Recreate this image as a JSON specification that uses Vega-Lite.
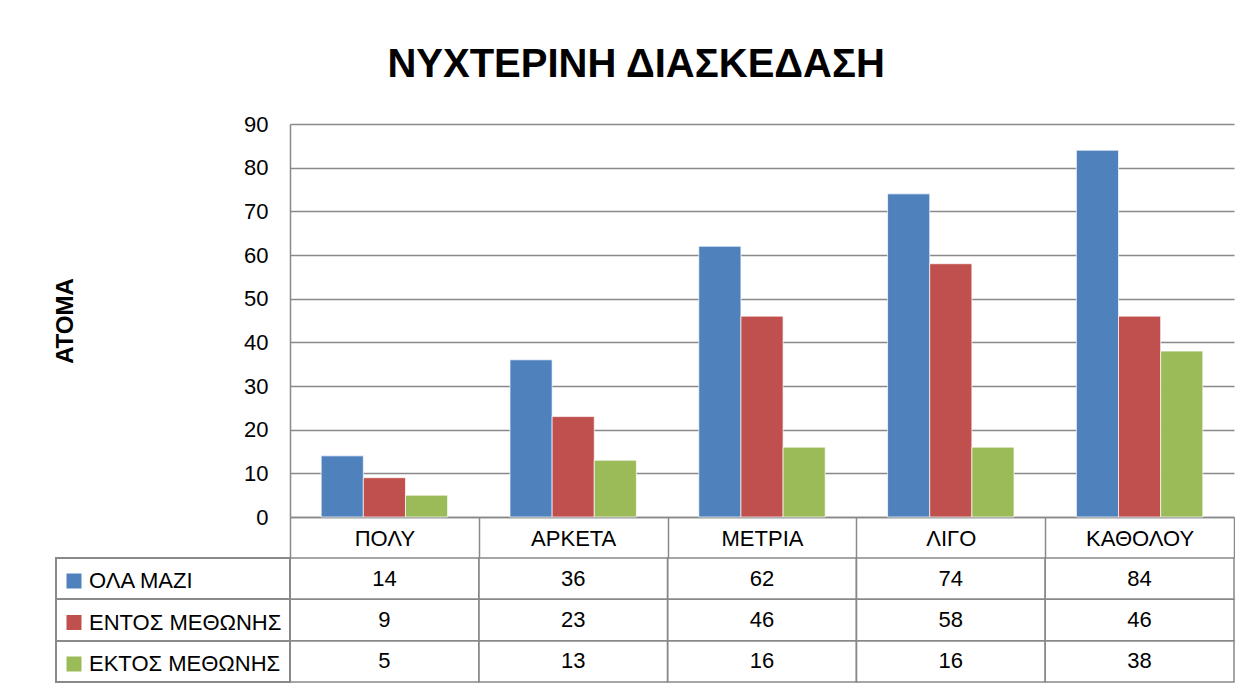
{
  "$schema": "https://vega.github.io/schema/vega-lite/v6.json",
  "padding": {"left": 53, "top": 44, "right": 0, "bottom": 0},
  "title": {"text": "ΝΥΧΤΕΡΙΝΗ ΔΙΑΣΚΕΔΑΣΗ", "fontSize": 40, "font": "Liberation Sans", "fontWeight": "bold", "color": "black", "anchor": "middle", "offset": 28.5, "dx": -8},
  "datasets": {
    "d": [
      {"cat": "ΠΟΛΥ", "series": "ΟΛΑ ΜΑΖΙ", "value": 14},
      {"cat": "ΠΟΛΥ", "series": "ΕΝΤΟΣ ΜΕΘΩΝΗΣ", "value": 9},
      {"cat": "ΠΟΛΥ", "series": "ΕΚΤΟΣ ΜΕΘΩΝΗΣ", "value": 5},
      {"cat": "ΑΡΚΕΤΑ", "series": "ΟΛΑ ΜΑΖΙ", "value": 36},
      {"cat": "ΑΡΚΕΤΑ", "series": "ΕΝΤΟΣ ΜΕΘΩΝΗΣ", "value": 23},
      {"cat": "ΑΡΚΕΤΑ", "series": "ΕΚΤΟΣ ΜΕΘΩΝΗΣ", "value": 13},
      {"cat": "ΜΕΤΡΙΑ", "series": "ΟΛΑ ΜΑΖΙ", "value": 62},
      {"cat": "ΜΕΤΡΙΑ", "series": "ΕΝΤΟΣ ΜΕΘΩΝΗΣ", "value": 46},
      {"cat": "ΜΕΤΡΙΑ", "series": "ΕΚΤΟΣ ΜΕΘΩΝΗΣ", "value": 16},
      {"cat": "ΛΙΓΟ", "series": "ΟΛΑ ΜΑΖΙ", "value": 74},
      {"cat": "ΛΙΓΟ", "series": "ΕΝΤΟΣ ΜΕΘΩΝΗΣ", "value": 58},
      {"cat": "ΛΙΓΟ", "series": "ΕΚΤΟΣ ΜΕΘΩΝΗΣ", "value": 16},
      {"cat": "ΚΑΘΟΛΟΥ", "series": "ΟΛΑ ΜΑΖΙ", "value": 84},
      {"cat": "ΚΑΘΟΛΟΥ", "series": "ΕΝΤΟΣ ΜΕΘΩΝΗΣ", "value": 46},
      {"cat": "ΚΑΘΟΛΟΥ", "series": "ΕΚΤΟΣ ΜΕΘΩΝΗΣ", "value": 38}
    ]
  },
  "columns": 2,
  "spacing": {"row": 41, "column": 0},
  "bounds": "flush",
  "align": "each",
  "resolve": {"scale": {"x": "independent", "y": "independent", "color": "shared"}, "legend": {"color": "shared"}},
  "concat": [
    {
      "width": 234,
      "height": 393,
      "data": {"values": [{}]},
      "mark": {"type": "point", "opacity": 0},
      "encoding": {}
    },
    {
      "width": 944,
      "height": 393,
      "data": {"name": "d"},
      "mark": {"type": "bar", "stroke": "white", "strokeWidth": 0.7},
      "encoding": {
        "x": {
          "field": "cat", "type": "nominal",
          "sort": ["ΠΟΛΥ", "ΑΡΚΕΤΑ", "ΜΕΤΡΙΑ", "ΛΙΓΟ", "ΚΑΘΟΛΟΥ"],
          "scale": {"paddingInner": 0, "paddingOuter": 0},
          "axis": {"title": null, "labelFontSize": 22, "labelColor": "black", "labelBaseline": "middle", "labelAngle": 0, "tickBand": "extent", "tickSize": 41, "tickColor": "#898989", "tickWidth": 1.5, "labelPadding": -20, "domainColor": "#898989", "domainWidth": 1.5}
        },
        "xOffset": {
          "field": "series", "type": "nominal",
          "sort": ["ΟΛΑ ΜΑΖΙ", "ΕΝΤΟΣ ΜΕΘΩΝΗΣ", "ΕΚΤΟΣ ΜΕΘΩΝΗΣ"],
          "scale": {"paddingInner": 0, "paddingOuter": 0.74}
        },
        "y": {
          "field": "value", "type": "quantitative",
          "scale": {"domain": [0, 90]},
          "axis": {"title": "ΑΤΟΜΑ", "titleFontSize": 24, "titleFontWeight": "bold", "titleColor": "black", "titlePadding": 166, "labelFontSize": 22, "labelColor": "black", "labelPadding": 22, "ticks": false, "values": [0, 10, 20, 30, 40, 50, 60, 70, 80, 90], "grid": true, "gridColor": "#898989", "gridWidth": 1.5, "domainColor": "#898989", "domainWidth": 1.5}
        },
        "color": {
          "field": "series", "type": "nominal",
          "sort": ["ΟΛΑ ΜΑΖΙ", "ΕΝΤΟΣ ΜΕΘΩΝΗΣ", "ΕΚΤΟΣ ΜΕΘΩΝΗΣ"],
          "scale": {"domain": ["ΟΛΑ ΜΑΖΙ", "ΕΝΤΟΣ ΜΕΘΩΝΗΣ", "ΕΚΤΟΣ ΜΕΘΩΝΗΣ"], "range": ["#4F81BD", "#C0504D", "#9BBB59"]},
          "legend": {"orient": "none", "legendX": 7, "legendY": 446, "title": null, "symbolType": "square", "symbolSize": 225, "symbolStrokeWidth": 0, "labelFontSize": 22, "labelColor": "black", "labelFont": "Liberation Sans", "labelLimit": 300, "rowPadding": 19.5, "labelOffset": 4, "direction": "vertical"}
        }
      }
    },
    {
      "width": 234,
      "height": 124,
      "data": {"name": "d"},
      "mark": {"type": "rect", "filled": false, "stroke": "#898989", "strokeWidth": 1.5},
      "encoding": {
        "y": {"field": "series", "type": "nominal", "sort": ["ΟΛΑ ΜΑΖΙ", "ΕΝΤΟΣ ΜΕΘΩΝΗΣ", "ΕΚΤΟΣ ΜΕΘΩΝΗΣ"], "scale": {"paddingInner": 0, "paddingOuter": 0}, "axis": null}
      }
    },
    {
      "width": 944,
      "height": 124,
      "data": {"name": "d"},
      "encoding": {
        "x": {"field": "cat", "type": "nominal", "sort": ["ΠΟΛΥ", "ΑΡΚΕΤΑ", "ΜΕΤΡΙΑ", "ΛΙΓΟ", "ΚΑΘΟΛΟΥ"], "scale": {"paddingInner": 0, "paddingOuter": 0}, "axis": null},
        "y": {"field": "series", "type": "nominal", "sort": ["ΟΛΑ ΜΑΖΙ", "ΕΝΤΟΣ ΜΕΘΩΝΗΣ", "ΕΚΤΟΣ ΜΕΘΩΝΗΣ"], "scale": {"paddingInner": 0, "paddingOuter": 0}, "axis": null}
      },
      "layer": [
        {"mark": {"type": "rect", "filled": false, "stroke": "#898989", "strokeWidth": 1.5}},
        {"mark": {"type": "text", "fontSize": 22, "color": "black", "font": "Liberation Sans"}, "encoding": {"text": {"field": "value", "type": "quantitative"}}}
      ]
    }
  ],
  "config": {"view": {"stroke": null}, "font": "Liberation Sans"}
}
